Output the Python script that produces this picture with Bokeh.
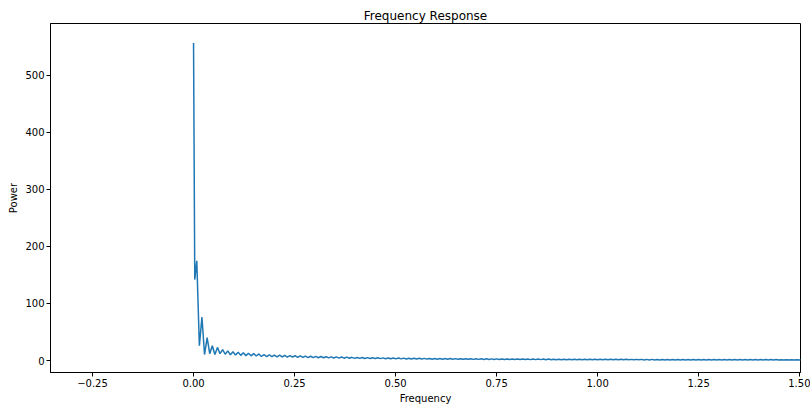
from bokeh.plotting import figure
from bokeh.models import Range1d, FixedTicker, Title
from bokeh.embed import file_html
from bokeh.resources import INLINE

# ---- data ----
freq = [0.0, 0.003,
        0.0080, 0.0144, 0.0208, 0.0272, 0.0336,
        0.0400, 0.0464, 0.0528, 0.0592, 0.0656,
        0.0720, 0.0784, 0.0848, 0.0912, 0.0976,
        0.1040, 0.1104, 0.1168, 0.1232, 0.1296,
        0.1360, 0.1424, 0.1488, 0.1552, 0.1616,
        0.1680, 0.1744, 0.1808, 0.1872, 0.1936,
        0.2000, 0.2064, 0.2128, 0.2192, 0.2256,
        0.2320, 0.2384, 0.2448, 0.2512, 0.2576,
        0.2640, 0.2704, 0.2768, 0.2832, 0.2896,
        0.2960, 0.3024, 0.3088, 0.3152, 0.3216,
        0.3280, 0.3344, 0.3408, 0.3472, 0.3536,
        0.3600, 0.3664, 0.3728, 0.3792, 0.3856,
        0.3920, 0.3984, 0.4048, 0.4112, 0.4176,
        0.4240, 0.4304, 0.4368, 0.4432, 0.4496,
        0.4560, 0.4624, 0.4688, 0.4752, 0.4816,
        0.4880, 0.4944, 0.5008, 0.5072, 0.5136,
        0.5200, 0.5264, 0.5328, 0.5392, 0.5456,
        0.5520, 0.5584, 0.5648, 0.5712, 0.5776,
        0.5840, 0.5904, 0.5968, 0.6032, 0.6096,
        0.6160, 0.6224, 0.6288, 0.6352, 0.6416,
        0.6480, 0.6544, 0.6608, 0.6672, 0.6736,
        0.6800, 0.6864, 0.6928, 0.6992, 0.7056,
        0.7120, 0.7184, 0.7248, 0.7312, 0.7376,
        0.7440, 0.7504, 0.7568, 0.7632, 0.7696,
        0.7760, 0.7824, 0.7888, 0.7952, 0.8016,
        0.8080, 0.8144, 0.8208, 0.8272, 0.8336,
        0.8400, 0.8464, 0.8528, 0.8592, 0.8656,
        0.8720, 0.8784, 0.8848, 0.8912, 0.8976,
        0.9040, 0.9104, 0.9168, 0.9232, 0.9296,
        0.9360, 0.9424, 0.9488, 0.9552, 0.9616,
        0.9680, 0.9744, 0.9808, 0.9872, 0.9936,
        1.0000, 1.0064, 1.0128, 1.0192, 1.0256,
        1.0320, 1.0384, 1.0448, 1.0512, 1.0576,
        1.0640, 1.0704, 1.0768, 1.0832, 1.0896,
        1.0960, 1.1024, 1.1088, 1.1152, 1.1216,
        1.1280, 1.1344, 1.1408, 1.1472, 1.1536,
        1.1600, 1.1664, 1.1728, 1.1792, 1.1856,
        1.1920, 1.1984, 1.2048, 1.2112, 1.2176,
        1.2240, 1.2304, 1.2368, 1.2432, 1.2496,
        1.2560, 1.2624, 1.2688, 1.2752, 1.2816,
        1.2880, 1.2944, 1.3008, 1.3072, 1.3136,
        1.3200, 1.3264, 1.3328, 1.3392, 1.3456,
        1.3520, 1.3584, 1.3648, 1.3712, 1.3776,
        1.3840, 1.3904, 1.3968, 1.4032, 1.4096,
        1.4160, 1.4224, 1.4288, 1.4352, 1.4416,
        1.4480, 1.4544, 1.4608, 1.4672, 1.4736,
        1.4800, 1.4864, 1.4928, 1.4992, 1.5056]

power = [557, 142,
         175, 26, 76, 10.5, 40,
         12, 26, 10.5, 23, 12,
         19, 11, 17, 10, 15.5,
         9.5, 14.5, 9, 13.5, 8.6,
         12.8, 8.2, 12.2, 7.9, 11.6,
         7.1, 10.5, 6.9, 10.1, 6.7,
         9.6, 6.4, 9.3, 6.2, 9.0,
         6.0, 8.7, 5.8, 8.4, 5.6,
         8.1, 5.4, 7.8, 5.2, 7.5,
         5.0, 7.2, 4.9, 7.0, 4.8,
         6.7, 4.6, 6.5, 4.4, 6.3,
         4.3, 6.1, 4.1, 5.9, 4.0,
         5.6, 3.8, 5.4, 3.7, 5.3,
         3.6, 5.1, 3.5, 5.0, 3.4,
         4.8, 3.3, 4.7, 3.2, 4.5,
         3.0, 4.4, 2.9, 4.3, 2.9,
         4.2, 2.8, 4.1, 2.7, 4.0,
         2.6, 3.9, 2.6, 3.8, 2.5,
         3.7, 2.4, 3.6, 2.4, 3.5,
         2.3, 3.4, 2.3, 3.4, 2.2,
         3.3, 2.2, 3.2, 2.1, 3.2,
         2.1, 3.1, 2.0, 3.1, 2.0,
         3.0, 1.9, 3.0, 1.9, 2.9,
         1.9, 2.9, 1.8, 2.8, 1.8,
         2.8, 1.8, 2.7, 1.7, 2.7,
         1.7, 2.6, 1.7, 2.6, 1.6,
         2.6, 1.6, 2.5, 1.6, 2.5,
         1.5, 2.5, 1.5, 2.4, 1.5,
         2.4, 1.4, 2.4, 1.4, 2.3,
         1.4, 2.3, 1.4, 2.3, 1.3,
         2.3, 1.3, 2.2, 1.3, 2.2,
         1.3, 2.2, 1.3, 2.2, 1.3,
         2.1, 1.2, 2.1, 1.2, 2.1,
         1.2, 2.1, 1.2, 2.0, 1.2,
         2.0, 1.2, 2.0, 1.1, 2.0,
         1.1, 2.0, 1.1, 1.9, 1.1,
         1.9, 1.1, 1.9, 1.1, 1.9,
         1.1, 1.9, 1.0, 1.9, 1.0,
         1.8, 1.0, 1.8, 1.0, 1.8,
         1.0, 1.8, 1.0, 1.8, 1.0,
         1.7, 1.0, 1.7, 1.0, 1.7,
         0.9, 1.7, 0.9, 1.7, 0.9,
         1.7, 0.9, 1.6, 0.9, 1.6,
         0.9, 1.6, 0.9, 1.6, 0.9,
         1.6, 0.9, 1.6, 0.8, 1.6,
         0.8, 1.5, 0.8, 1.5, 0.8,
         1.5, 0.8, 1.5, 0.8, 1.5]

x_ticks = [-0.25, 0.0, 0.25, 0.5, 0.75, 1.0, 1.25, 1.5]
x_tick_labels = ["\u22120.25", "0.00", "0.25", "0.50", "0.75", "1.00", "1.25", "1.50"]
y_ticks = [0, 100, 200, 300, 400, 500]

FONT = "DejaVu Sans"

p = figure(width=810, height=406, output_backend="svg", toolbar_location=None,
           x_range=Range1d(-0.354, 1.502), y_range=Range1d(-21, 591),
           min_border_left=50, min_border_right=10, min_border_top=23, min_border_bottom=34)

t = Title(text="Frequency Response", align="center", text_font=FONT,
          text_font_size="12px", text_font_style="normal", text_color="black",
          standoff=2, offset=0)
p.add_layout(t, "above")

p.line(freq, power, line_color="#1f77b4", line_width=1.5)

p.xgrid.visible = False
p.ygrid.visible = False
p.outline_line_color = "black"
p.outline_line_width = 1
p.outline_line_alpha = 1.0
p.background_fill_color = "white"
p.border_fill_color = "white"

p.xaxis.ticker = FixedTicker(ticks=x_ticks)
p.xaxis.major_label_overrides = {tk: lb for tk, lb in zip(x_ticks, x_tick_labels)}
p.yaxis.ticker = FixedTicker(ticks=y_ticks)

for ax in (p.xaxis[0], p.yaxis[0]):
    ax.axis_line_color = "black"
    ax.major_tick_line_color = "black"
    ax.major_tick_in = 0
    ax.major_tick_out = 4
    ax.minor_tick_line_color = None
    ax.major_label_text_font = FONT
    ax.major_label_text_font_size = "10px"
    ax.major_label_text_color = "black"
    ax.axis_label_text_font = FONT
    ax.axis_label_text_font_size = "10px"
    ax.axis_label_text_font_style = "normal"
    ax.axis_label_text_color = "black"
    ax.major_label_standoff = 2
    ax.axis_label_standoff = 3

p.xaxis.axis_label = "Frequency"
p.yaxis.axis_label = "Power"

open("out.html", "w").write(file_html(p, INLINE))
